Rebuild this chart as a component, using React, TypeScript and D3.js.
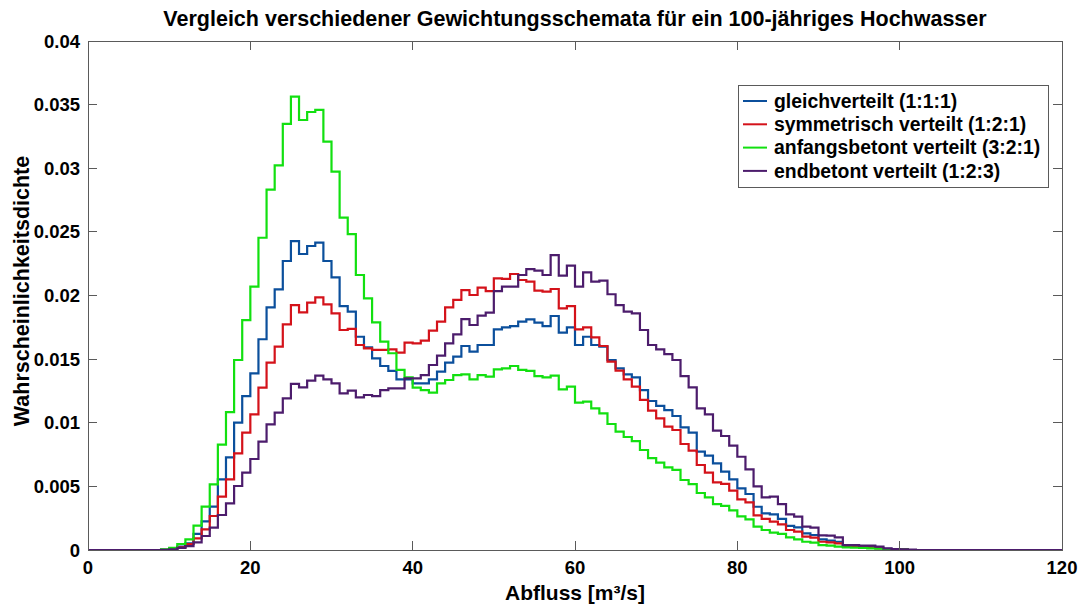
import React from "react";
import * as d3 from "d3";

// Histogram densities (units of 1e-3) for bins [n, n+1), starting at FIRST_BIN.
const FIRST_BIN = 9;
const LAST_EDGE = 120;

const gleichverteilt = [
  0.02, 0.08, 0.26, 0.52, 1.26, 2.25, 3.41, 5.55, 7.28, 10.01,
  12.1, 13.88, 16.56, 19.07, 20.48, 22.71, 24.28, 23.26, 23.89, 24.15,
  22.71, 21.43, 19.17, 18.73, 16.76, 15.93, 15.06, 14.46, 14.07, 13.41,
  13.41, 13.1, 13.1, 13.41, 14.01, 14.72, 15.2, 16.03, 15.59, 16.11,
  16.11, 17.34, 17.5, 17.6, 17.94, 18.13, 17.87, 17.6, 18.39, 17.08,
  17.5, 16.11, 16.76, 16.11, 15.98, 14.93, 14.28, 13.8, 13.57, 12.57,
  11.71, 11.32, 11.0, 10.53, 9.64, 9.22, 7.73, 7.41, 6.81, 6.16,
  5.55, 4.85, 4.4, 3.4, 2.88, 2.8, 2.44, 1.89, 1.78, 1.31,
  1.18, 0.84, 0.73, 0.65, 0.31, 0.26, 0.26, 0.24, 0.16, 0.1,
  0.08, 0.05, 0,
];

const symmetrisch = [
  0.02, 0.05, 0.21, 0.47, 0.92, 1.62, 2.67, 4.19, 5.55, 7.6,
  9.22, 10.66, 12.76, 14.72, 15.98, 17.73, 19.25, 18.68, 19.44, 19.86,
  19.31, 18.6, 17.29, 17.37, 16.11, 15.85, 15.72, 15.72, 15.77, 15.51,
  16.29, 16.24, 16.45, 17.24, 17.94, 19.07, 19.65, 20.43, 20.04, 20.62,
  20.35, 21.35, 21.3, 21.69, 21.22, 21.09, 20.38, 20.3, 20.51, 18.99,
  19.17, 17.34, 17.5, 16.71, 16.03, 14.8, 14.09, 13.41, 12.84, 11.79,
  10.95, 10.35, 9.69, 9.43, 8.33, 7.81, 6.68, 6.08, 5.32, 5.19,
  4.66, 3.98, 3.75, 2.72, 2.44, 2.23, 2.02, 1.57, 1.44, 1.05,
  0.97, 0.65, 0.6, 0.52, 0.26, 0.24, 0.21, 0.18, 0.13, 0.08,
  0.05, 0.03, 0,
];

const anfangsbetont = [
  0.05, 0.16, 0.47, 0.84, 1.91, 3.41, 5.16, 8.28, 10.84, 14.93,
  18.07, 20.69, 24.54, 28.32, 30.23, 33.48, 35.63, 33.79, 34.42, 34.58,
  32.09, 29.73, 26.12, 24.83, 21.61, 19.78, 17.89, 16.37, 15.46, 14.15,
  13.57, 12.76, 12.57, 12.36, 13.1, 13.36, 13.75, 13.8, 13.41, 13.75,
  13.62, 14.2, 14.28, 14.46, 14.15, 14.07, 13.67, 13.57, 13.7, 12.63,
  12.84, 11.58, 11.66, 11.13, 10.74, 9.9, 9.3, 8.88, 8.55, 7.86,
  7.22, 6.86, 6.5, 6.29, 5.5, 5.18, 4.48, 4.14, 3.6, 3.46,
  3.12, 2.65, 2.41, 1.83, 1.57, 1.36, 1.26, 1.0, 0.84, 0.65,
  0.58, 0.39, 0.34, 0.26, 0.21, 0.18, 0.16, 0.13, 0.1, 0.08,
  0.05, 0.03, 0,
];

const endbetont = [
  0.02, 0.05, 0.16, 0.31, 0.6, 1.1, 1.76, 2.75, 3.67, 5.03,
  6.08, 7.15, 8.51, 9.88, 10.79, 11.92, 13.05, 12.78, 13.31, 13.7,
  13.41, 13.1, 12.31, 12.52, 12.0, 12.18, 12.1, 12.57, 12.7, 12.7,
  13.49, 13.49, 13.75, 14.54, 15.27, 16.24, 16.95, 18.15, 17.68, 18.42,
  18.65, 20.35, 20.69, 20.69, 21.61, 22.08, 21.95, 21.61, 23.18, 21.56,
  22.34, 20.69, 21.82, 21.09, 21.17, 20.1, 19.25, 18.73, 18.6, 17.29,
  16.11, 15.77, 15.4, 14.93, 13.67, 12.78, 11.13, 10.66, 9.38, 8.96,
  8.2, 7.33, 6.34, 5.0, 4.14, 4.19, 3.61, 2.8, 2.62, 1.83,
  1.76, 1.15, 1.13, 1.0, 0.39, 0.39, 0.34, 0.34, 0.26, 0.13,
  0.08, 0.05, 0.03,
];

const SERIES_NAMES = [
  "gleichverteilt (1:1:1)",
  "symmetrisch verteilt (1:2:1)",
  "anfangsbetont verteilt (3:2:1)",
  "endbetont verteilt (1:2:3)",
];
const SERIES_VALUES = [gleichverteilt, symmetrisch, anfangsbetont, endbetont];
const SERIES_COLORS = ["#0b4f9c", "#d4121a", "#12e010", "#4c1c6c"];

const X_TICKS = [0, 20, 40, 60, 80, 100, 120];
const Y_TICKS = [0, 0.005, 0.01, 0.015, 0.02, 0.025, 0.03, 0.035, 0.04];
const Y_TICK_LABELS = ["0", "0.005", "0.01", "0.015", "0.02", "0.025", "0.03", "0.035", "0.04"];

const TITLE = "Vergleich verschiedener Gewichtungsschemata für ein 100-jähriges Hochwasser";
const X_LABEL = "Abfluss [m³/s]";
const Y_LABEL = "Wahrscheinlichkeitsdichte";

const W = 1081;
const H = 605;
const M = { left: 88, right: 1062, top: 41, bottom: 550 };
const FONT = "'Liberation Sans', Arial, Helvetica, sans-serif";
const AXIS_COLOR = "#5a5a5a";
const TICK_LEN = 9;

function stepPoints(values: number[]): [number, number][] {
  const pts: [number, number][] = [];
  for (let i = 0; i < LAST_EDGE; i++) {
    const k = i - FIRST_BIN;
    const v = k >= 0 && k < values.length ? values[k] * 1e-3 : 0;
    pts.push([i, v]);
  }
  pts.push([LAST_EDGE, pts[pts.length - 1][1]]);
  return pts;
}

export default function App() {
  const x = d3.scaleLinear().domain([0, 120]).range([M.left, M.right]);
  const y = d3.scaleLinear().domain([0, 0.04]).range([M.bottom, M.top]);
  const line = d3
    .line<[number, number]>()
    .x((d) => x(d[0]))
    .y((d) => y(d[1]))
    .curve(d3.curveStepAfter);

  const legend = { x: 738, y: 85, w: 310, h: 102, row: 23.3 };

  return (
    <svg
      width={W}
      height={H}
      style={{ position: "absolute", left: 0, top: 0, background: "#fff" }}
      fontFamily={FONT}
    >
      <rect x={0} y={0} width={W} height={H} fill="#fff" />
      {/* data */}
      <g fill="none" strokeWidth={2.2} strokeLinejoin="miter">
        {SERIES_VALUES.map((vals, i) => (
          <path key={i} d={line(stepPoints(vals)) || ""} stroke={SERIES_COLORS[i]} />
        ))}
      </g>
      {/* axes box and ticks */}
      <g stroke={AXIS_COLOR} strokeWidth={1} fill="none" shapeRendering="crispEdges">
        <rect x={M.left} y={M.top} width={M.right - M.left} height={M.bottom - M.top} />
        {X_TICKS.map((t) => (
          <g key={"xt" + t}>
            <line x1={x(t)} x2={x(t)} y1={M.bottom} y2={M.bottom - TICK_LEN} />
            <line x1={x(t)} x2={x(t)} y1={M.top} y2={M.top + TICK_LEN} />
          </g>
        ))}
        {Y_TICKS.map((t) => (
          <g key={"yt" + t}>
            <line x1={M.left} x2={M.left + TICK_LEN} y1={y(t)} y2={y(t)} />
            <line x1={M.right} x2={M.right - TICK_LEN} y1={y(t)} y2={y(t)} />
          </g>
        ))}
      </g>
      {/* tick labels */}
      <g fontWeight="bold" fontSize={18.5} fill="#000">
        {X_TICKS.map((t) => (
          <text key={"xl" + t} x={x(t)} y={M.bottom + 24} textAnchor="middle">
            {t}
          </text>
        ))}
        {Y_TICKS.map((t, i) => (
          <text key={"yl" + t} x={M.left - 8} y={y(t) + 6.5} textAnchor="end">
            {Y_TICK_LABELS[i]}
          </text>
        ))}
      </g>
      {/* title and axis labels */}
      <text x={(M.left + M.right) / 2} y={26} textAnchor="middle" fontWeight="bold" fontSize={21.5}>
        {TITLE}
      </text>
      <text x={(M.left + M.right) / 2} y={600} textAnchor="middle" fontWeight="bold" fontSize={21}>
        {X_LABEL}
      </text>
      <text
        transform={`translate(29, 291) rotate(-90)`}
        textAnchor="middle"
        fontWeight="bold"
        fontSize={21.5}
      >
        {Y_LABEL}
      </text>
      {/* legend */}
      <g>
        <rect
          x={legend.x}
          y={legend.y}
          width={legend.w}
          height={legend.h}
          fill="#fff"
          stroke={AXIS_COLOR}
          strokeWidth={1}
          shapeRendering="crispEdges"
        />
        {SERIES_NAMES.map((name, i) => {
          const ry = legend.y + 16 + i * legend.row;
          return (
            <g key={name}>
              <line x1={legend.x + 5} x2={legend.x + 29} y1={ry} y2={ry} stroke={SERIES_COLORS[i]} strokeWidth={2} />
              <text x={legend.x + 36} y={ry + 6.8} fontWeight="bold" fontSize={19.4}>
                {name}
              </text>
            </g>
          );
        })}
      </g>
    </svg>
  );
}
